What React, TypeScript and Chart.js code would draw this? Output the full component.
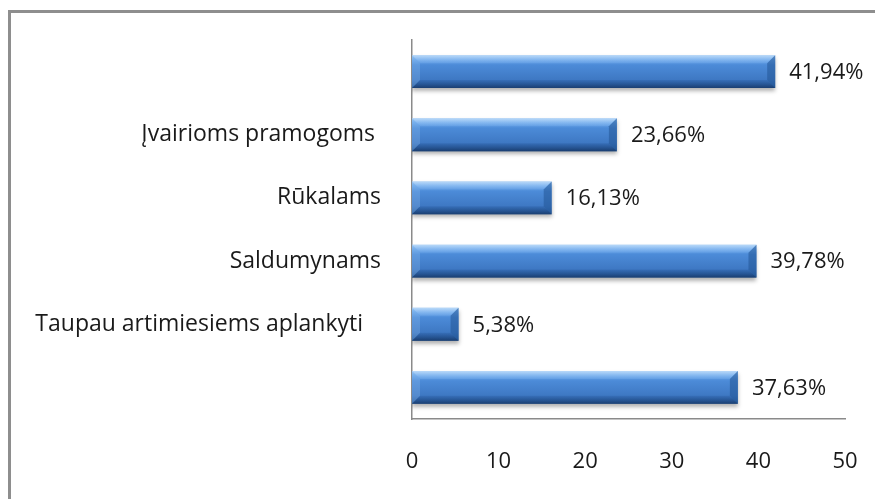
import React, { useEffect, useRef } from "react";
import { Chart, registerables } from "chart.js";

Chart.register(...registerables);

const categories = [
  "",
  "Įvairioms pramogoms ",
  "Rūkalams",
  "Saldumynams",
  "Taupau artimiesiems aplankyti   ",
  "",
];
const values = [41.94, 23.66, 16.13, 39.78, 5.38, 37.63];
const valueLabels = ["41,94%", "23,66%", "16,13%", "39,78%", "5,38%", "37,63%"];
const xTicks = [0, 10, 20, 30, 40, 50];

const FONT = "'Open Sans', sans-serif";
const BAR_PCT = 0.52;

function barFill(context: any) {
  const chart = context.chart;
  const ys = chart.scales && chart.scales.y;
  if (!ys || ys.bottom === undefined || ys.bottom === ys.top) return "#4a86cf";
  const yc = ys.getPixelForValue(context.dataIndex);
  const h = ((ys.bottom - ys.top) / categories.length) * BAR_PCT;
  const top = yc - h / 2;
  const bot = yc + h / 2;
  const g = chart.ctx.createLinearGradient(0, top, 0, bot);
  g.addColorStop(0, "#9cc7f2");
  g.addColorStop(0.12, "#6eaaec");
  g.addColorStop(0.3, "#4c8bd8");
  g.addColorStop(0.75, "#3e78c3");
  g.addColorStop(0.9, "#3066aa");
  g.addColorStop(1, "#224f88");
  return g;
}

const bevelPlugin = {
  id: "bevel",
  beforeDatasetsDraw(chart: any) {
    const ctx = chart.ctx;
    ctx.save();
    ctx.shadowColor = "rgba(0,0,0,0.3)";
    ctx.shadowBlur = 4;
    ctx.shadowOffsetY = 3;
    ctx.shadowOffsetX = 0;
  },
  afterDatasetsDraw(chart: any) {
    const ctx = chart.ctx;
    ctx.restore();
    const meta = chart.getDatasetMeta(0);
    meta.data.forEach((el: any) => {
      const left = el.base;
      const right = el.x;
      const top = el.y - el.height / 2;
      const bot = el.y + el.height / 2;
      const b = 8;
      ctx.save();
      // top facet
      ctx.beginPath();
      ctx.moveTo(left, top);
      ctx.lineTo(right, top);
      ctx.lineTo(right - b, top + b);
      ctx.lineTo(left + b, top + b);
      ctx.closePath();
      const gt = ctx.createLinearGradient(0, top, 0, top + b);
      gt.addColorStop(0, "rgba(190,220,250,0.85)");
      gt.addColorStop(1, "rgba(120,175,238,0.35)");
      ctx.fillStyle = gt;
      ctx.fill();
      // bottom facet
      ctx.beginPath();
      ctx.moveTo(left, bot);
      ctx.lineTo(right, bot);
      ctx.lineTo(right - b, bot - b);
      ctx.lineTo(left + b, bot - b);
      ctx.closePath();
      const gb = ctx.createLinearGradient(0, bot - b, 0, bot);
      gb.addColorStop(0, "rgba(40,90,160,0.3)");
      gb.addColorStop(1, "rgba(25,60,110,0.85)");
      ctx.fillStyle = gb;
      ctx.fill();
      // right facet
      ctx.beginPath();
      ctx.moveTo(right, top);
      ctx.lineTo(right, bot);
      ctx.lineTo(right - b, bot - b);
      ctx.lineTo(right - b, top + b);
      ctx.closePath();
      ctx.fillStyle = "rgba(35,85,150,0.55)";
      ctx.fill();
      // left facet
      ctx.beginPath();
      ctx.moveTo(left, top);
      ctx.lineTo(left, bot);
      ctx.lineTo(left + b, bot - b);
      ctx.lineTo(left + b, top + b);
      ctx.closePath();
      ctx.fillStyle = "rgba(150,195,240,0.25)";
      ctx.fill();
      ctx.restore();
    });
    ctx.save();
    ctx.font = `22px ${FONT}`;
    ctx.fillStyle = "#1a1a1a";
    ctx.textAlign = "left";
    ctx.textBaseline = "middle";
    meta.data.forEach((el: any, i: number) => {
      ctx.fillText(valueLabels[i], el.x + 14, el.y + 1);
    });
    ctx.restore();
  },
};

export default function App() {
  const ref = useRef<HTMLCanvasElement | null>(null);
  useEffect(() => {
    if (!ref.current) return;
    const chart = new Chart(ref.current, {
      type: "bar",
      data: {
        labels: categories,
        datasets: [
          {
            data: values,
            backgroundColor: barFill,
            borderWidth: 0,
            barPercentage: BAR_PCT,
            categoryPercentage: 1,
          },
        ],
      },
      options: {
        indexAxis: "y",
        animation: false,
        responsive: false,
        devicePixelRatio: 1,
        layout: { padding: { top: 40, right: 30, left: 0, bottom: 0 } },
        plugins: {
          legend: { display: false },
          tooltip: { enabled: false },
        },
        scales: {
          x: {
            min: 0,
            max: 50,
            afterBuildTicks: (s: any) => {
              s.ticks = xTicks.map((v) => ({ value: v }));
            },
            grid: { display: false, drawTicks: false },
            border: { display: true, color: "#8a8a8a", width: 1.5 },
            ticks: {
              padding: 30,
              color: "#1a1a1a",
              font: { family: FONT, size: 22 },
            },
            afterFit: (s: any) => {
              s.height = 80;
              s.paddingLeft = 0;
              s.paddingRight = 0;
            },
          },
          y: {
            grid: { display: false, drawTicks: false },
            border: { display: true, color: "#8a8a8a", width: 1.5 },
            ticks: {
              padding: 31,
              color: "#1a1a1a",
              font: { family: FONT, size: 23 },
            },
            afterFit: (s: any) => {
              s.width = 412;
              s.paddingTop = 0;
              s.paddingBottom = 0;
            },
          },
        },
      },
      plugins: [bevelPlugin],
    });
    return () => chart.destroy();
  }, []);
  return (
    <>
      <canvas
        ref={ref}
        width={875}
        height={499}
        style={{ position: "fixed", left: 0, top: 0, width: 875, height: 499 }}
      />
      <div
        style={{
          position: "fixed",
          left: 8,
          top: 10,
          width: 867,
          height: 489,
          boxSizing: "border-box",
          borderLeft: "3px solid #8e8e8e",
          borderTop: "3px solid #8e8e8e",
          pointerEvents: "none",
        }}
      />
    </>
  );
}
